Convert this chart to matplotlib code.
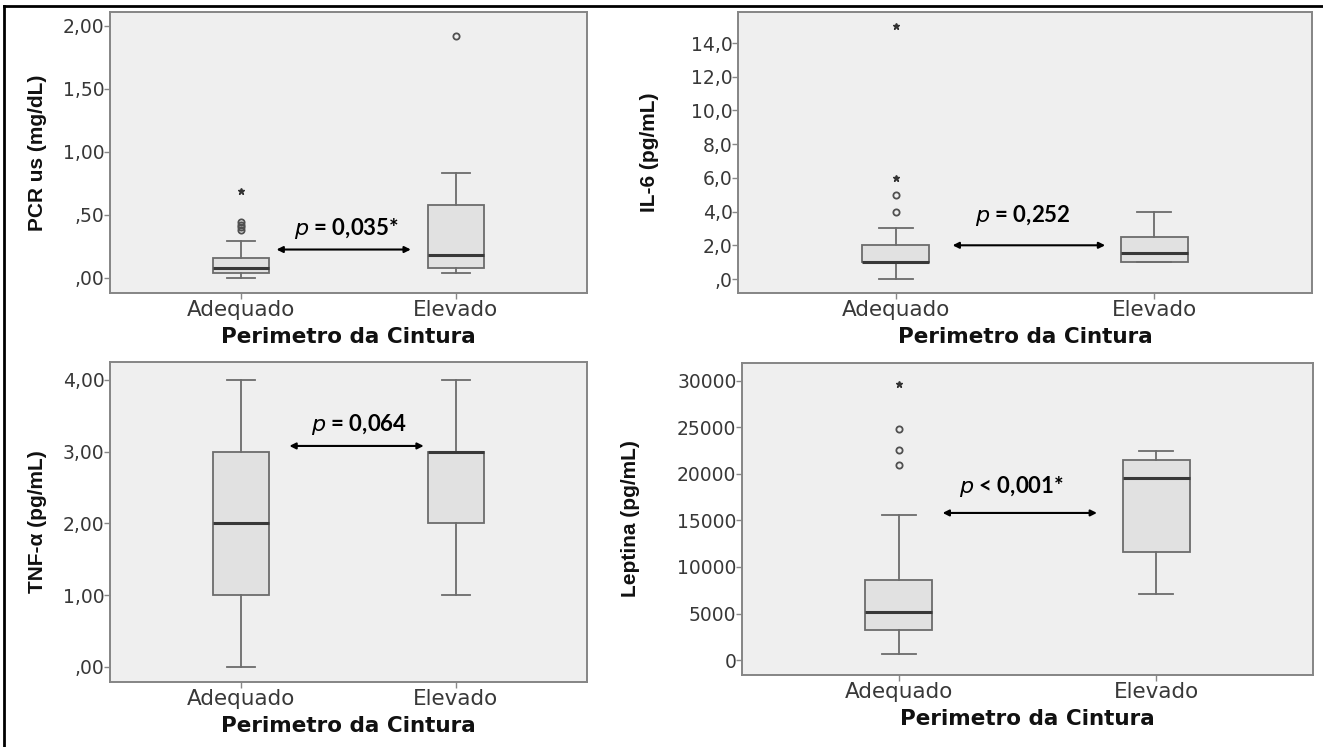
import matplotlib.pyplot as plt
from matplotlib.lines import Line2D

# categories on the x axis
groups = ["Adequado", "Elevado"]

# five number summaries: low whisker, Q1, median, Q3, high whisker
pcr_stats = [[0.00, 0.04, 0.08, 0.16, 0.29], [0.04, 0.08, 0.18, 0.58, 0.83]]
pcr_circles = [[0.38, 0.40, 0.42, 0.44], [1.92]]
pcr_stars = [[0.69], []]

il6_stats = [[0.0, 1.0, 1.0, 2.0, 3.0], [1.0, 1.0, 1.55, 2.5, 4.0]]
il6_circles = [[4.0, 5.0], []]
il6_stars = [[6.0, 15.0], []]

tnf_stats = [[0.0, 1.0, 2.0, 3.0, 4.0], [1.0, 2.0, 3.0, 3.0, 4.0]]
tnf_circles = [[], []]
tnf_stars = [[], []]

lep_stats = [[700, 3250, 5200, 8550, 15600], [7100, 11650, 19500, 21450, 22400]]
lep_circles = [[20900, 22600, 24800], []]
lep_stars = [[29600], []]

# tick labels as printed (decimal comma)
pcr_ticks = [0.0, 0.5, 1.0, 1.5, 2.0]
pcr_ticklabels = [",00", ",50", "1,00", "1,50", "2,00"]
il6_ticks = [0, 2, 4, 6, 8, 10, 12, 14]
il6_ticklabels = [",0", "2,0", "4,0", "6,0", "8,0", "10,0", "12,0", "14,0"]
tnf_ticks = [0, 1, 2, 3, 4]
tnf_ticklabels = [",00", "1,00", "2,00", "3,00", "4,00"]
lep_ticks = [0, 5000, 10000, 15000, 20000, 25000, 30000]
lep_ticklabels = ["0", "5000", "10000", "15000", "20000", "25000", "30000"]

ylabels = ["PCR us (mg/dL)", "IL-6 (pg/mL)", "TNF-\u03b1 (pg/mL)", "Leptina (pg/mL)"]
pvalues = ["= 0,035*", "= 0,252", "= 0,064", "< 0,001*"]

W, H = 1323, 747
fig = plt.figure(figsize=(W / 100, H / 100), dpi=100)
fig.patch.set_facecolor("white")

def px_axes(left, top, right, bottom):
    return fig.add_axes([left / W, 1 - bottom / H, (right - left) / W, (bottom - top) / H])

panels = [
    # axes box in pixels, stats, circles, stars, ylim, ticks, ticklabels, arrow (x0, x1, y), text (x, y), ylabel x
    dict(box=(110, 12, 587, 293), stats=pcr_stats, circ=pcr_circles, star=pcr_stars,
         ylim=(-0.12, 2.11), ticks=pcr_ticks, tl=pcr_ticklabels,
         arrow=(1.165, 1.79, 0.225), text=(1.49, 0.29), ylx=-0.132),
    dict(box=(738, 12, 1312, 293), stats=il6_stats, circ=il6_circles, star=il6_stars,
         ylim=(-0.83, 15.84), ticks=il6_ticks, tl=il6_ticklabels,
         arrow=(1.22, 1.81, 2.0), text=(1.49, 3.0), ylx=-0.137),
    dict(box=(110, 362, 587, 682), stats=tnf_stats, circ=tnf_circles, star=tnf_stars,
         ylim=(-0.21, 4.25), ticks=tnf_ticks, tl=tnf_ticklabels,
         arrow=(1.225, 1.85, 3.08), text=(1.55, 3.2), ylx=-0.132),
    dict(box=(742, 363, 1313, 675), stats=lep_stats, circ=lep_circles, star=lep_stars,
         ylim=(-1600, 31900), ticks=lep_ticks, tl=lep_ticklabels,
         arrow=(1.17, 1.77, 15800), text=(1.44, 17300), ylx=-0.178),
]

edge = "#6c6c6c"
for i, p in enumerate(panels):
    ax = px_axes(*p["box"])
    ax.set_facecolor("#efefef")
    bxp_stats = []
    for j, s in enumerate(p["stats"]):
        bxp_stats.append(dict(whislo=s[0], q1=s[1], med=s[2], q3=s[3], whishi=s[4], fliers=[]))
    ax.bxp(bxp_stats, positions=[1, 2], widths=0.26, patch_artist=True, showfliers=False,
           boxprops=dict(facecolor="#e1e1e1", edgecolor=edge, linewidth=1.3),
           whiskerprops=dict(color=edge, linewidth=1.3),
           capprops=dict(color=edge, linewidth=1.3),
           medianprops=dict(color="#383838", linewidth=2.2))
    for j in range(2):
        if p["circ"][j]:
            ax.plot([j + 1] * len(p["circ"][j]), p["circ"][j], "o", ms=4.5, mfc="none",
                    mec="#505050", mew=1.3)
        if p["star"][j]:
            ax.plot([j + 1] * len(p["star"][j]), p["star"][j], "*", ms=5, color="#333333")
    ax.set_xlim(0.39, 2.61)
    ax.set_ylim(*p["ylim"])
    ax.set_xticks([1, 2])
    ax.set_xticklabels(groups, fontsize=15.5, color="#383838", family="DejaVu Sans")
    ax.set_yticks(p["ticks"])
    ax.set_yticklabels(p["tl"], fontsize=13.5, color="#383838", family="DejaVu Sans")
    ax.tick_params(axis="both", length=4, color="#888888", width=1)
    ax.tick_params(axis="x", pad=1)
    ax.tick_params(axis="y", pad=0)
    for sp in ax.spines.values():
        sp.set_color("#858585")
        sp.set_linewidth(1.4)
    ax.set_ylabel(ylabels[i], fontsize=15, fontweight="bold", family="Liberation Sans", color="#111111")
    ax.yaxis.set_label_coords(p["ylx"], 0.5)
    ax.set_xlabel("Perimetro da Cintura", fontsize=15.5, fontweight="bold", family="DejaVu Sans",
                  color="#111111", labelpad=5)
    x0, x1, ya = p["arrow"]
    ax.annotate("", xy=(x1, ya), xytext=(x0, ya),
                arrowprops=dict(arrowstyle="<|-|>", color="black", lw=1.5, mutation_scale=9,
                                shrinkA=0, shrinkB=0))
    ax.text(p["text"][0], p["text"][1], "$\\mathbf{\\mathit{p}}$ " + pvalues[i], ha="center",
            va="bottom", fontsize=16, fontweight="bold", family="Lato", color="black")

# frame lines around the picture
fig.add_artist(Line2D([4 / W, 4 / W], [0, 1 - 6 / H], color="black", lw=2))
fig.add_artist(Line2D([4 / W, 1], [1 - 6 / H, 1 - 6 / H], color="black", lw=2))

fig.savefig("out.png", dpi=100)
